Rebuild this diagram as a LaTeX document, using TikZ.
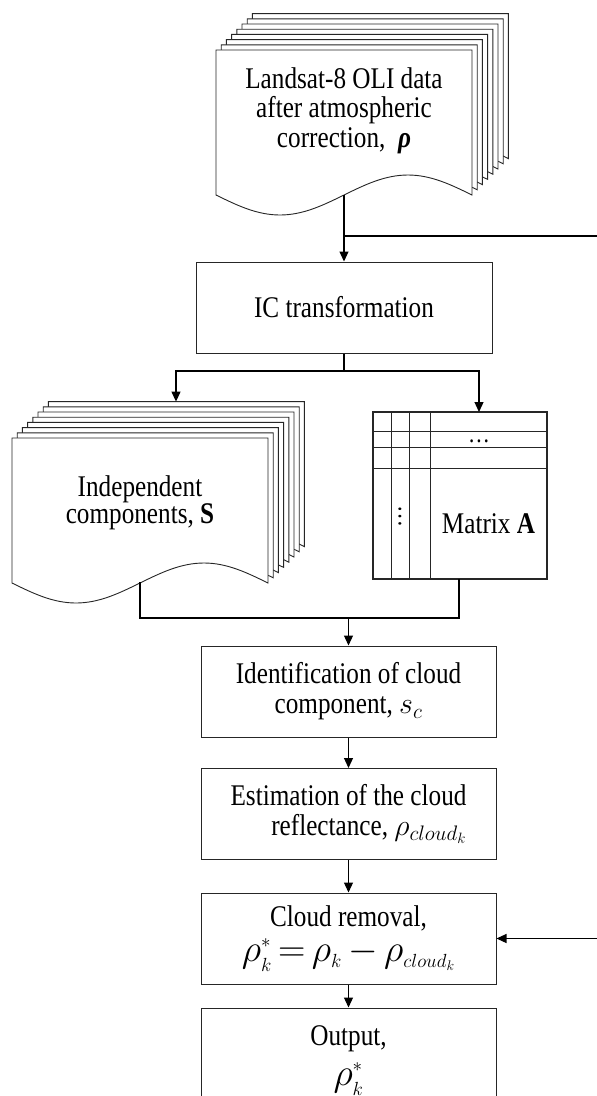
\RequirePackage{fix-cm}
\documentclass[tikz,border=0pt]{standalone}
\usepackage{fontspec}
\setmainfont{Liberation Serif}[FakeStretch=0.84]
\usepackage{amsmath}
\DeclareMathSizes{38}{38}{19}{14}
\usetikzlibrary{arrows.meta,calc}
\tikzset{
  box/.style={draw=black!85, line width=1pt, minimum width=295pt, minimum height=91pt, inner sep=0pt, align=center, font=\fontsize{30}{30}\selectfont},
  pg/.style={draw=black!85, fill=white, line width=0.9pt},
  grid/.style={draw=black!85, line width=1pt},
  conn/.style={draw=black, line width=1.2pt},
  arr/.style={conn, -{Triangle[length=10pt,width=9pt]}},
  txt/.style={align=center, inner sep=0pt, font=\fontsize{30}{29.5}\selectfont},
  dots/.style={inner sep=0pt, font=\fontsize{26}{26}\selectfont},
}
\newcommand{\docpage}[2]{\path[pg] (#1,#2) -- ++(256,0) -- ++(0,145) sin ++(-64,-20) cos ++(-64,20) sin ++(-64,20) cos ++(-64,-20) -- cycle;}
\newcommand{\bigmath}[1]{{\fontsize{38}{38}\selectfont\thickmuskip=3mu\medmuskip=3mu $#1$}}
\begin{document}
\begin{tikzpicture}[x=1pt,y=-1pt]
\useasboundingbox (0,0) rectangle (597,1096);
\clip (0,0) rectangle (597,1096);
% Landsat stack
\foreach \k in {7,6,...,0} {\docpage{216+5.2*\k}{50-5.2*\k}}
\node[txt] (landsat) at (344,110.5) {Landsat-8 OLI data\\after atmospheric\\correction,\ \ \textbf{\textit{ρ}}};
\coordinate (lsb) at (344,195);
% IC box
\node[box, minimum width=296pt] (ic) at (344,307.5) {IC transformation};
% Independent components stack
\foreach \k in {7,6,...,0} {\docpage{12+5.2*\k}{438-5.2*\k}}
\node[txt, font=\fontsize{30}{25}\selectfont] (indep) at (140,502.5) {Independent\\components, \textbf{S}};
% Matrix A
\node[draw=black!85, line width=1.1pt, minimum width=174pt, minimum height=167pt, inner sep=0pt] (mat) at (460,495.5) {};
\draw[grid] (391,412) -- (391,579);
\draw[grid] (409,412) -- (409,579);
\draw[grid] (430,412) -- (430,579);
\draw[grid] (373,431) -- (547,431);
\draw[grid] (373,447) -- (547,447);
\draw[grid] (373,468) -- (547,468);
\node[dots] (hdots) at (479,441) {…};
\node[dots, rotate=90] (vdots) at (400,517) {…};
\node[font=\fontsize{30}{30}\selectfont, inner sep=0pt] (mattext) at (488.5,523.5) {Matrix \textbf{A}};
% lower chain
\node[box] (ident) at (348.5,691.5) {Identification of cloud\\component, $s_c$};
\node[box, align=right] (est) at (348.5,814) {Estimation of the cloud\\reflectance, $\rho_{cloud_k}$};
\node[box] (crem) at (348.5,938.5) {Cloud removal,\\[5pt]\bigmath{\rho_k^{*} = \rho_k - \rho_{cloud_k}}};
\node[box, minimum height=105pt] (out) at (348.5,1060.5) {Output,\\[10pt]\bigmath{\rho_k^{*}}};
% connectors
\coordinate (fbtop) at (597,236);
\coordinate (split) at (344,371);
\coordinate (stacktop) at (176,401.6);
\coordinate (mattop) at (479,412);
\coordinate (indbot) at (140,582);
\coordinate (matbot) at (459,579);
\coordinate (mjoin) at (348.5,618);
\coordinate (fbbot) at (597,938.5);
\draw[arr] (lsb) -- (ic.north);
\draw[conn] (ic.north |- fbtop) -- (fbtop);
\draw[conn] (ic.south) -- (split);
\draw[arr] (split) -| (stacktop);
\draw[arr] (split) -| (mattop);
\draw[conn] (indbot) |- (mjoin) -| (matbot);
\draw[arr] (mjoin) -- (ident.north);
\draw[arr] (ident) -- (est);
\draw[arr] (est) -- (crem);
\draw[arr] (crem) -- (out);
\draw[arr] (fbbot) -- (crem.east);
\end{tikzpicture}
\end{document}
